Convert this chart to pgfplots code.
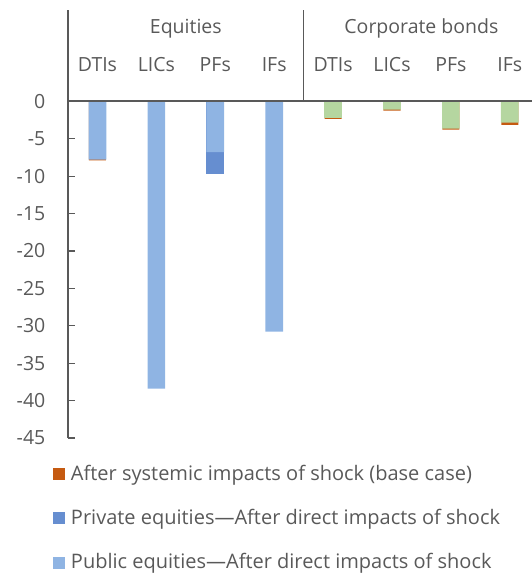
\documentclass[border=0pt]{standalone}
\usepackage{fontspec}
\setmainfont{Open Sans}
\usepackage{pgfplots}
\pgfplotsset{compat=1.18}
\definecolor{pubeq}{RGB}{143,180,227}
\definecolor{priveq}{RGB}{102,142,208}
\definecolor{bondg}{RGB}{181,214,160}
\definecolor{sysor}{RGB}{197,90,17}
\definecolor{txt}{RGB}{89,89,89}
\begin{document}
\fontsize{19.5}{23}\selectfont
\begin{tikzpicture}
\begin{axis}[name=ax, scale only axis, width=463pt, height=428pt,
  xmin=-0.5, xmax=7.36, ymin=-45, ymax=12.2,
  axis x line=none, axis y line*=left,
  y axis line style={draw=txt, line width=1.2pt, -},
  ytick={-45,-40,...,0},
  tick align=inside, major tick length=7pt,
  ytick style={draw=txt, line width=1.2pt},
  yticklabel style={text=txt, xshift=-16pt},
  /pgf/number format/assume math mode=true,
  clip=false,
  ybar, bar width=0.3,
  every axis plot/.append style={bar shift=0pt, draw=none},
  legend style={draw=none, fill=none, inner sep=0pt, outer sep=0pt,
    at={(0,0)}, anchor=north west, xshift=-15pt, yshift=-27pt,
    nodes={inner sep=0pt, text=txt, font=\fontsize{20}{23}\selectfont}, row sep=26pt,
    /tikz/every odd column/.append style={column sep=6pt}},
  legend cell align=left,
  legend image code/.code={\fill[#1] (0pt,-6pt) rectangle (12pt,6pt);},
]
% After systemic impacts (totals)
\addplot[fill=sysor, bar width=0.29] coordinates {(0,-7.9) (4,-2.36) (5,-1.26) (6,-3.8) (7,-3.15)};
% Private equities (cumulative with public)
\addplot[fill=priveq] coordinates {(2,-9.75)};
% Public equities
\addplot[fill=pubeq] coordinates {(0,-7.8) (1,-38.4) (2,-6.8) (3,-30.8)};
% Corporate bonds after direct impacts
\addplot[fill=bondg, forget plot] coordinates {(4,-2.22) (5,-1.1) (6,-3.66) (7,-2.86)};
\legend{After systemic impacts of shock (base case),Private equities---After direct impacts of shock,Public equities---After direct impacts of shock}
\draw[txt, line width=1.6pt] (axis cs:-0.5,0) -- (axis cs:7.5,0);
\draw[txt, line width=1.2pt] (axis cs:3.5,0) -- (axis cs:3.5,12.2);
\node[anchor=base, text=txt] at (axis cs:1.5,9.06) {Equities};
\node[anchor=base, text=txt] at (axis cs:5.5,9.06) {Corporate bonds};
\node[anchor=base, text=txt] at (axis cs:0,3.92) {DTIs};
\node[anchor=base, text=txt] at (axis cs:1,3.92) {LICs};
\node[anchor=base, text=txt] at (axis cs:2,3.92) {PFs};
\node[anchor=base, text=txt] at (axis cs:3,3.92) {IFs};
\node[anchor=base, text=txt] at (axis cs:4,3.92) {DTIs};
\node[anchor=base, text=txt] at (axis cs:5,3.92) {LICs};
\node[anchor=base, text=txt] at (axis cs:6,3.92) {PFs};
\node[anchor=base, text=txt] at (axis cs:7,3.92) {IFs};
\end{axis}
\pgfresetboundingbox
\path ([shift={(-68pt,-135pt)}]ax.south west) rectangle ([shift={(463pt,438pt)}]ax.south west);
\end{tikzpicture}
\end{document}
